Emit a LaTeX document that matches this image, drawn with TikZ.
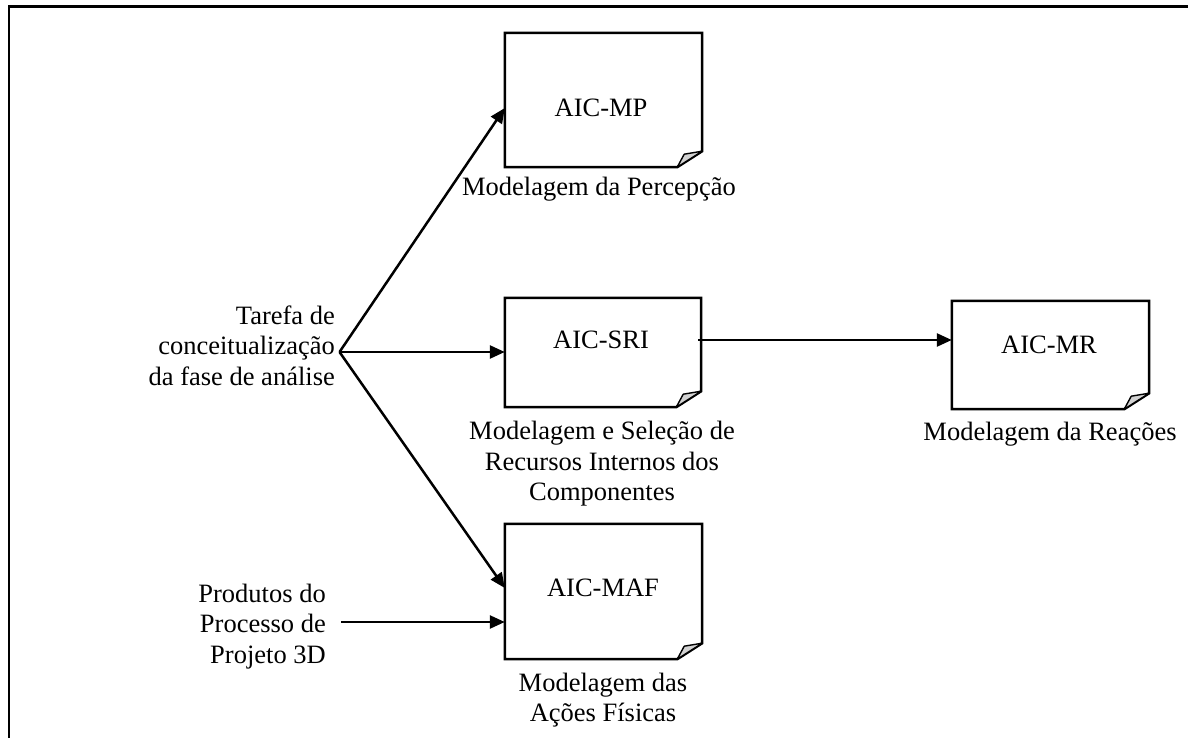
\documentclass[tikz,border=0pt]{standalone}
\usepackage{fontspec}
\setmainfont{Liberation Serif}
\usetikzlibrary{arrows.meta}
\tikzset{
  lw/.style={line width=2.5pt},
  arr/.style={lw, -{Triangle[length=15pt,width=13pt]}},
  docbox/.style={draw=none, inner sep=0pt, minimum width=197pt},
  txt/.style={inner sep=0pt, font=\fontsize{26.5}{30.5}\selectfont},
}
\newcommand\docshape[1]{%
  \draw[lw, line join=miter] ([xshift=-25pt]#1.south east) -- (#1.south west) -- (#1.north west) -- (#1.north east) -- ([yshift=16pt]#1.south east) -- cycle;
  \filldraw[fill=gray!35, line width=1.4pt, line join=round] ([xshift=-25pt]#1.south east) .. controls ([shift={(-21pt,7pt)}]#1.south east) .. ([shift={(-18pt,13pt)}]#1.south east) -- ([yshift=16pt]#1.south east) -- cycle;
}
\begin{document}
\begin{tikzpicture}[x=1pt,y=-1pt]
\useasboundingbox (0,0) rectangle (1188,738);
% frame
\draw[line width=2.7pt] (9,740) -- (9,6.3) -- (1190,6.3);
% boxes
\node[docbox, minimum height=134pt] (mp) at (603.5,100) {};
\node[docbox, minimum width=196pt, minimum height=109pt] (sri) at (603,352.5) {};
\node[docbox, minimum height=108pt] (mr) at (1050.5,355) {};
\node[docbox, minimum height=135pt] (maf) at (603.5,591.5) {};
\docshape{mp}
\docshape{sri}
\docshape{mr}
\docshape{maf}
% box texts
\node[txt] (mpt) at (601,108) {AIC-MP};
\node[txt] (srit) at (601,340) {AIC-SRI};
\node[txt] (mrt) at (1049,345) {AIC-MR};
\node[txt] (maft) at (603,588) {AIC-MAF};
% labels
\node[txt, anchor=base] (mpl) at (599,196) {Modelagem da Percepção};
\node[txt, align=center] (sril) at (602,464) {Modelagem e Seleção de\\Recursos Internos dos\\Componentes};
\node[txt, anchor=base] (mrl) at (1050,440) {Modelagem da Reações};
\node[txt, align=center] (mafl) at (603,700) {Modelagem das\\Ações Físicas};
\node[txt, align=right, anchor=east] (tar) at (335,345.5) {Tarefa de\\conceitualização\\da fase de análise};
\node[txt, align=right, anchor=east] (prod) at (326,626.5) {Produtos do\\Processo de\\Projeto 3D};
% connectors
\coordinate (t) at (339.5,352);
\coordinate (p) at (341,622);
\coordinate (s) at (698,340);
\draw[arr] (t) -- (mpt -| mp.west);
\draw[arr] (t) -- (t -| sri.west);
\draw[arr] (t) -- (maft -| maf.west);
\draw[arr] (s) -- (srit -| mr.west);
\draw[arr] (p) -- (p -| maf.west);
\end{tikzpicture}
\end{document}
